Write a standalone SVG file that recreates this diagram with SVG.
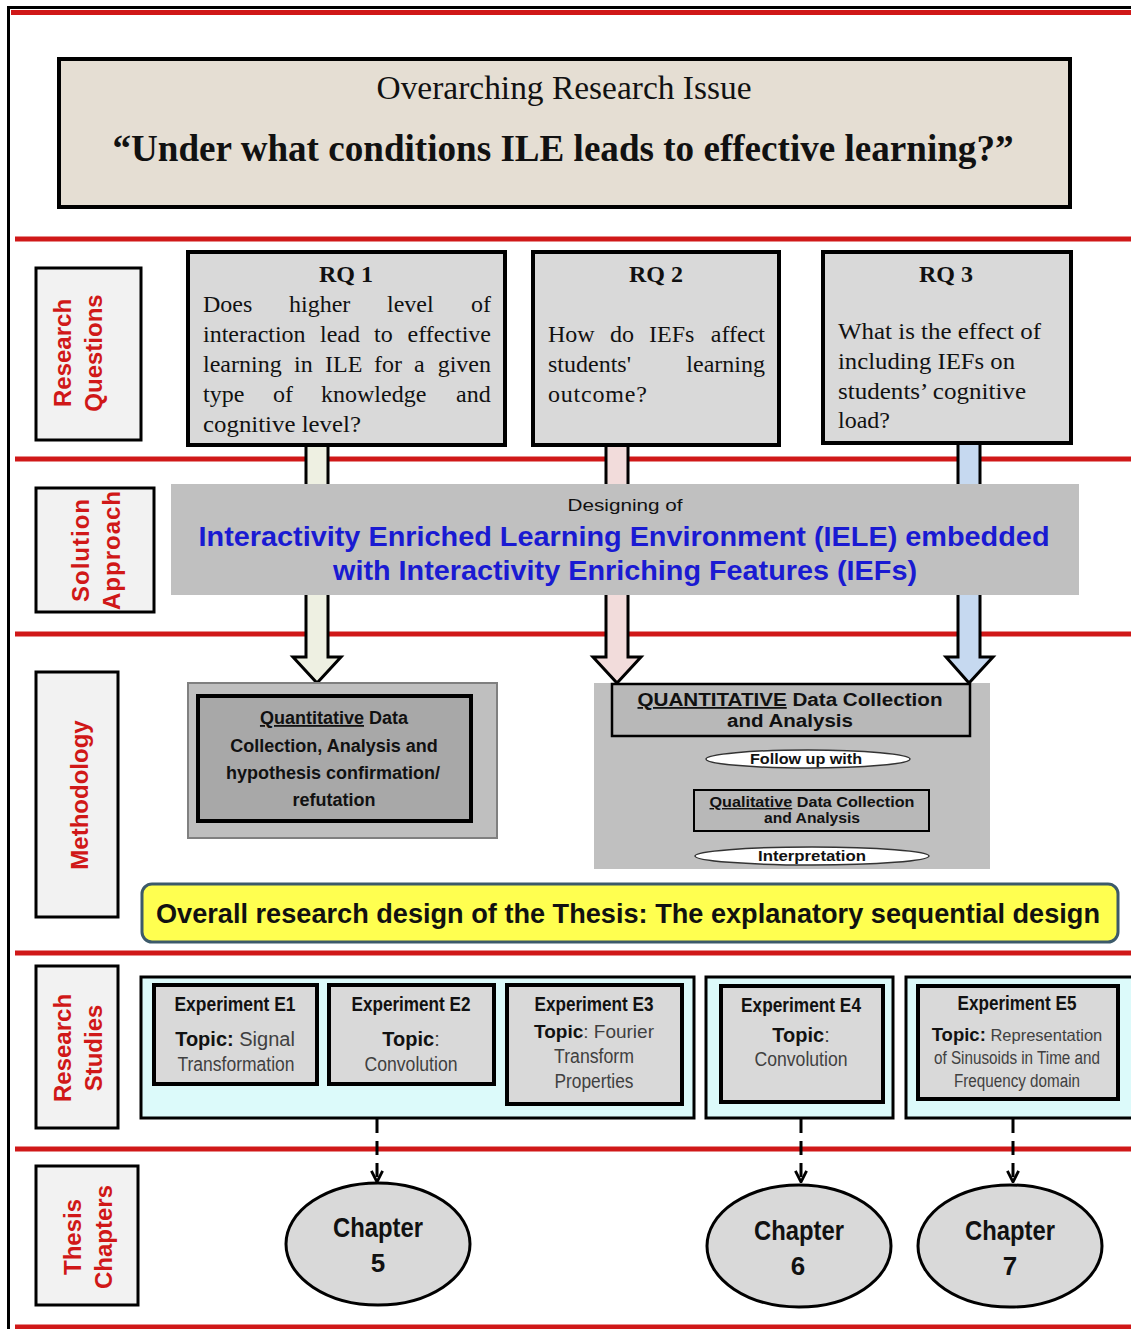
<svg xmlns="http://www.w3.org/2000/svg" width="1131" height="1329" viewBox="0 0 1131 1329">
<defs>
<style>
.red{stroke:#d01818;stroke-width:5}
.lbl{fill:#f2f2f2;stroke:#000;stroke-width:3}
.lbt{font-family:"Liberation Sans",Arial,sans-serif;font-weight:bold;font-size:24px;fill:#d01818;text-anchor:middle}
.rq{fill:#d9d9d9;stroke:#000;stroke-width:4}
.serif{font-family:"Liberation Serif","Times New Roman",serif;fill:#111}
.rqt{font-size:24px}
.sans{font-family:"Liberation Sans",Arial,sans-serif;fill:#111}
.narrow{font-family:"Liberation Sans Narrow","Liberation Sans",Arial,sans-serif;fill:#111}
.exp{fill:#d9d9d9;stroke:#000;stroke-width:4}
.cont{fill:#dcfafa;stroke:#000;stroke-width:3}
.chap{fill:#d9d9d9;stroke:#000;stroke-width:3}
.dash{stroke:#000;stroke-width:3;stroke-dasharray:14 8;fill:none}
.thin{stroke:#000;stroke-width:1.5;fill:none}
.b{font-weight:bold}
.topic{fill:#404040}
</style>
<marker id="vhead" viewBox="0 0 10 10" refX="9" refY="5" markerWidth="14" markerHeight="14" markerUnits="userSpaceOnUse" orient="auto">
<path d="M1,1 L9,5 L1,9" fill="none" stroke="#000" stroke-width="2"/>
</marker>
<marker id="shead" viewBox="0 0 10 10" refX="9" refY="5" markerWidth="10" markerHeight="10" markerUnits="userSpaceOnUse" orient="auto">
<path d="M1,1 L9,5 L1,9" fill="none" stroke="#000" stroke-width="1.5"/>
</marker>
</defs>
<rect x="0" y="0" width="1131" height="1329" fill="#fff"/>
<g id="frame">
<line x1="8" y1="7.5" x2="1131" y2="7.5" stroke="#000" stroke-width="3"/>
<line x1="8.5" y1="6" x2="8.5" y2="1329" stroke="#000" stroke-width="3"/>
<line class="red" x1="11" y1="12.5" x2="1131" y2="12.5"/>
<line class="red" x1="15" y1="239" x2="1131" y2="239"/>
<line class="red" x1="15" y1="459" x2="1131" y2="459"/>
<line class="red" x1="15" y1="634" x2="1131" y2="634"/>
<line class="red" x1="15" y1="953" x2="1131" y2="953"/>
<line class="red" x1="15" y1="1149" x2="1131" y2="1149"/>
<line class="red" x1="15" y1="1327" x2="1131" y2="1327"/>
</g>
<g id="issue">
<rect x="59" y="59" width="1011" height="148" fill="#e5ded3" stroke="#000" stroke-width="4"/>
<text class="serif" x="564" y="99" style="font-size:34px" text-anchor="middle" textLength="375" lengthAdjust="spacingAndGlyphs">Overarching Research Issue</text>
<text class="serif b" x="563" y="161" style="font-size:37px" text-anchor="middle" textLength="901" lengthAdjust="spacingAndGlyphs">“Under what conditions ILE leads to effective learning?”</text>
</g>
<g id="lbl-rq">
<rect class="lbl" x="36" y="268" width="105" height="172"/>
<text class="lbt" transform="translate(71,353) rotate(-90)">Research</text>
<text class="lbt" transform="translate(102,353) rotate(-90)">Questions</text>
</g>
<g id="lbl-sa">
<rect class="lbl" x="36" y="488" width="118" height="124"/>
<text class="lbt" transform="translate(89,550) rotate(-90)" letter-spacing="1">Solution</text>
<text class="lbt" transform="translate(120,550) rotate(-90)" letter-spacing="1">Approach</text>
</g>
<g id="lbl-me">
<rect class="lbl" x="36" y="672" width="82" height="245"/>
<text class="lbt" transform="translate(88,795) rotate(-90)">Methodology</text>
</g>
<g id="lbl-rs">
<rect class="lbl" x="36" y="966" width="82" height="162"/>
<text class="lbt" transform="translate(71,1048) rotate(-90)">Research</text>
<text class="lbt" transform="translate(102,1048) rotate(-90)">Studies</text>
</g>
<g id="lbl-tc">
<rect class="lbl" x="36" y="1166" width="102" height="139"/>
<text class="lbt" transform="translate(81,1237) rotate(-90)">Thesis</text>
<text class="lbt" transform="translate(112,1237) rotate(-90)">Chapters</text>
</g>
<g id="connectors">
<polygon points="306,440 306,657 293,657 317,683 341,657 328,657 328,440" fill="#eef0e2" stroke="#000" stroke-width="3"/>
<polygon points="606,440 606,657 593,657 617,683 641,657 628,657 628,440" fill="#f2dcdb" stroke="#000" stroke-width="3"/>
<polygon points="958,440 958,657 946,657 969,683 993,657 980,657 980,440" fill="#c6d9f0" stroke="#000" stroke-width="3"/>
<line class="thin" x1="808" y1="736" x2="808" y2="749" marker-end="url(#shead)"/>
<line class="thin" x1="808" y1="768" x2="808" y2="790" marker-end="url(#shead)"/>
<line class="thin" x1="812" y1="831" x2="812" y2="847" marker-end="url(#shead)"/>
<line class="dash" x1="377" y1="1119" x2="377" y2="1182" marker-end="url(#vhead)"/>
<line class="dash" x1="801" y1="1119" x2="801" y2="1182" marker-end="url(#vhead)"/>
<line class="dash" x1="1013" y1="1119" x2="1013" y2="1182" marker-end="url(#vhead)"/>
</g>
<g id="rq1">
<rect class="rq" x="188" y="252" width="317" height="193"/>
<text class="serif rqt b" x="346" y="282" text-anchor="middle">RQ 1</text>
<text class="serif rqt" y="312"><tspan x="203">Does</tspan><tspan x="289">higher</tspan><tspan x="387">level</tspan><tspan x="471">of</tspan></text>
<text class="serif rqt" y="342"><tspan x="203">interaction</tspan><tspan x="320">lead</tspan><tspan x="374">to</tspan><tspan x="491" text-anchor="end">effective</tspan></text>
<text class="serif rqt" y="372"><tspan x="203">learning</tspan><tspan x="294">in</tspan><tspan x="325">ILE</tspan><tspan x="374">for</tspan><tspan x="414">a</tspan><tspan x="491" text-anchor="end">given</tspan></text>
<text class="serif rqt" y="402"><tspan x="203">type</tspan><tspan x="273">of</tspan><tspan x="321">knowledge</tspan><tspan x="456">and</tspan></text>
<text class="serif rqt" x="203" y="432" textLength="158" lengthAdjust="spacingAndGlyphs">cognitive level?</text>
</g>
<g id="rq2">
<rect class="rq" x="533" y="252" width="246" height="193"/>
<text class="serif rqt b" x="656" y="282" text-anchor="middle">RQ 2</text>
<text class="serif rqt" y="342"><tspan x="548">How</tspan><tspan x="610">do</tspan><tspan x="649">IEFs</tspan><tspan x="765" text-anchor="end">affect</tspan></text>
<text class="serif rqt" y="372"><tspan x="548">students'</tspan><tspan x="765" text-anchor="end">learning</tspan></text>
<text class="serif rqt" x="548" y="402" letter-spacing="0.8">outcome?</text>
</g>
<g id="rq3">
<rect class="rq" x="823" y="252" width="248" height="191"/>
<text class="serif rqt b" x="946" y="282" text-anchor="middle">RQ 3</text>
<text class="serif rqt" x="838" y="339" textLength="203" lengthAdjust="spacingAndGlyphs">What is the effect of</text>
<text class="serif rqt" x="838" y="369" textLength="177" lengthAdjust="spacingAndGlyphs">including IEFs on</text>
<text class="serif rqt" x="838" y="399" textLength="188" lengthAdjust="spacingAndGlyphs">students’ cognitive</text>
<text class="serif rqt" x="838" y="428">load?</text>
</g>
<g id="solution">
<rect x="171" y="484" width="908" height="111" fill="#c0c0c0"/>
<text class="narrow" x="625" y="511" font-size="17" text-anchor="middle" textLength="115" lengthAdjust="spacingAndGlyphs">Designing of</text>
<text class="sans b" x="624" y="546" font-size="28" style="fill:#1a1ad2" text-anchor="middle" textLength="851" lengthAdjust="spacingAndGlyphs">Interactivity Enriched Learning Environment (IELE) embedded</text>
<text class="sans b" x="625" y="580" font-size="28" style="fill:#1a1ad2" text-anchor="middle" textLength="584" lengthAdjust="spacingAndGlyphs">with Interactivity Enriching Features (IEFs)</text>
</g>
<g id="meth-quant">
<rect x="188" y="683" width="309" height="155" fill="#bfbfbf" stroke="#808080" stroke-width="2"/>
<rect x="198" y="696" width="273" height="125" fill="#a8a8a8" stroke="#000" stroke-width="4"/>
<text class="sans b" font-size="18" x="334" y="724" text-anchor="middle"><tspan text-decoration="underline">Quantitative</tspan> Data</text>
<text class="sans b" font-size="18" x="334" y="752" text-anchor="middle">Collection, Analysis and</text>
<text class="sans b" font-size="18" x="333" y="779" text-anchor="middle">hypothesis confirmation/</text>
<text class="sans b" font-size="18" x="334" y="806" text-anchor="middle">refutation</text>
</g>
<g id="meth-seq">
<rect x="594" y="683" width="396" height="186" fill="#c0c0c0"/>
</g>
<g id="quant-box">
<rect x="612" y="684" width="358" height="52" fill="#b8b8b8" stroke="#000" stroke-width="2.5"/>
<text class="sans b" font-size="18" x="790" y="706" text-anchor="middle" textLength="305" lengthAdjust="spacingAndGlyphs"><tspan text-decoration="underline">QUANTITATIVE</tspan> Data Collection</text>
<text class="sans b" font-size="18" x="790" y="727" text-anchor="middle" textLength="126" lengthAdjust="spacingAndGlyphs">and Analysis</text>
</g>
<g id="followup">
<ellipse cx="808" cy="759" rx="102" ry="9" fill="#fff" stroke="#333" stroke-width="1.5"/>
<text class="sans b" font-size="14" x="806" y="764" text-anchor="middle" textLength="112" lengthAdjust="spacingAndGlyphs">Follow up with</text>
</g>
<g id="qual-box">
<rect x="694" y="790" width="235" height="41" fill="#b8b8b8" stroke="#000" stroke-width="2"/>
<text class="sans b" font-size="14" x="812" y="807" text-anchor="middle" textLength="205" lengthAdjust="spacingAndGlyphs"><tspan text-decoration="underline">Qualitative</tspan> Data Collection</text>
<text class="sans b" font-size="14" x="812" y="823" text-anchor="middle" textLength="96" lengthAdjust="spacingAndGlyphs">and Analysis</text>
</g>
<g id="interp">
<ellipse cx="812" cy="856" rx="117" ry="9" fill="#fff" stroke="#333" stroke-width="1.5"/>
<text class="sans b" font-size="14" x="812" y="861" text-anchor="middle" textLength="108" lengthAdjust="spacingAndGlyphs">Interpretation</text>
</g>
<g id="overall">
<rect x="142" y="884" width="976" height="58" rx="10" ry="10" fill="#ffff50" stroke="#3c5a6a" stroke-width="3"/>
<text class="narrow b" font-size="28" x="628" y="923" text-anchor="middle" textLength="944" lengthAdjust="spacingAndGlyphs">Overall research design of the Thesis: The explanatory sequential design</text>
</g>
<g id="group1">
<rect class="cont" x="141" y="977" width="553" height="141"/>
</g>
<g id="e1">
<rect class="exp" x="154" y="985" width="163" height="99"/>
<text class="narrow b" font-size="20" x="235" y="1011" text-anchor="middle" textLength="121" lengthAdjust="spacingAndGlyphs">Experiment E1</text>
<text class="narrow" font-size="20" x="235" y="1046" text-anchor="middle"><tspan class="b">Topic:</tspan> <tspan class="topic">Signal</tspan></text>
<text class="narrow topic" font-size="20" x="236" y="1071" text-anchor="middle" textLength="117" lengthAdjust="spacingAndGlyphs">Transformation</text>
</g>
<g id="e2">
<rect class="exp" x="329" y="985" width="165" height="99"/>
<text class="narrow b" font-size="20" x="411" y="1011" text-anchor="middle" textLength="119" lengthAdjust="spacingAndGlyphs">Experiment E2</text>
<text class="narrow" font-size="20" x="411" y="1046" text-anchor="middle"><tspan class="b">Topic</tspan><tspan class="topic">:</tspan></text>
<text class="narrow topic" font-size="20" x="411" y="1071" text-anchor="middle" textLength="93" lengthAdjust="spacingAndGlyphs">Convolution</text>
</g>
<g id="e3">
<rect class="exp" x="507" y="985" width="175" height="119"/>
<text class="narrow b" font-size="20" x="594" y="1011" text-anchor="middle" textLength="119" lengthAdjust="spacingAndGlyphs">Experiment E3</text>
<text class="narrow" font-size="19" x="594" y="1038" text-anchor="middle"><tspan class="b">Topic</tspan><tspan class="topic">: Fourier</tspan></text>
<text class="narrow topic" font-size="20" x="594" y="1063" text-anchor="middle" textLength="80" lengthAdjust="spacingAndGlyphs">Transform</text>
<text class="narrow topic" font-size="20" x="594" y="1088" text-anchor="middle" textLength="79" lengthAdjust="spacingAndGlyphs">Properties</text>
</g>
<g id="group2">
<rect class="cont" x="706" y="977" width="187" height="141"/>
</g>
<g id="e4">
<rect class="exp" x="721" y="986" width="162" height="116"/>
<text class="narrow b" font-size="20" x="801" y="1012" text-anchor="middle" textLength="120" lengthAdjust="spacingAndGlyphs">Experiment E4</text>
<text class="narrow" font-size="20" x="801" y="1042" text-anchor="middle"><tspan class="b">Topic</tspan><tspan class="topic">:</tspan></text>
<text class="narrow topic" font-size="20" x="801" y="1066" text-anchor="middle" textLength="93" lengthAdjust="spacingAndGlyphs">Convolution</text>
</g>
<g id="group3">
<rect class="cont" x="906" y="977" width="230" height="141"/>
</g>
<g id="e5">
<rect class="exp" x="918" y="986" width="200" height="113"/>
<text class="narrow b" font-size="20" x="1017" y="1010" text-anchor="middle" textLength="119" lengthAdjust="spacingAndGlyphs">Experiment E5</text>
<text class="narrow" font-size="16.5" x="1017" y="1041" text-anchor="middle"><tspan class="b" font-size="18.5">Topic:</tspan> <tspan class="topic">Representation</tspan></text>
<text class="narrow topic" font-size="18" x="1017" y="1064" text-anchor="middle" textLength="166" lengthAdjust="spacingAndGlyphs">of Sinusoids in Time and</text>
<text class="narrow topic" font-size="18" x="1017" y="1087" text-anchor="middle" textLength="126" lengthAdjust="spacingAndGlyphs">Frequency domain</text>
</g>
<g id="ch5">
<ellipse class="chap" cx="378" cy="1244" rx="92" ry="61"/>
<text class="narrow b" font-size="28" x="378" y="1237" text-anchor="middle" textLength="90" lengthAdjust="spacingAndGlyphs">Chapter</text>
<text class="narrow b" font-size="26" x="378" y="1272" text-anchor="middle">5</text>
</g>
<g id="ch6">
<ellipse class="chap" cx="799" cy="1246" rx="92" ry="61"/>
<text class="narrow b" font-size="28" x="799" y="1240" text-anchor="middle" textLength="90" lengthAdjust="spacingAndGlyphs">Chapter</text>
<text class="narrow b" font-size="26" x="798" y="1275" text-anchor="middle">6</text>
</g>
<g id="ch7">
<ellipse class="chap" cx="1010" cy="1246" rx="92" ry="61"/>
<text class="narrow b" font-size="28" x="1010" y="1240" text-anchor="middle" textLength="90" lengthAdjust="spacingAndGlyphs">Chapter</text>
<text class="narrow b" font-size="26" x="1010" y="1275" text-anchor="middle">7</text>
</g>
</svg>
